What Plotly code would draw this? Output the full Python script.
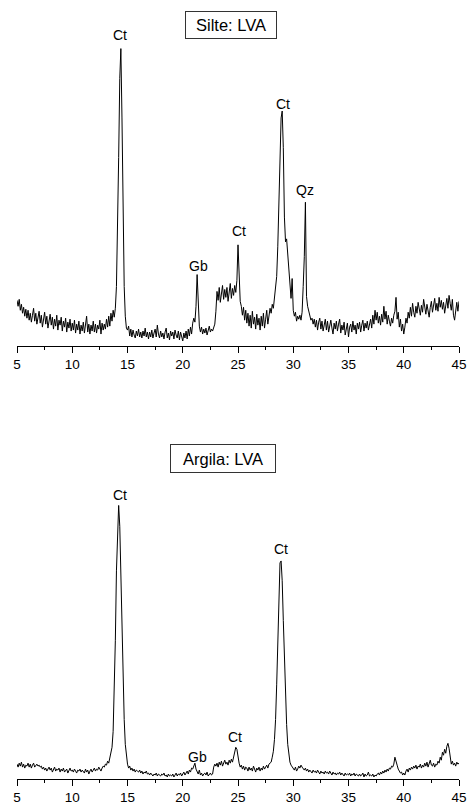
import plotly.graph_objects as go
from plotly.subplots import make_subplots

# 2-theta sampling (degrees), step 0.1 from 5 to 45
two_theta = [round(5 + 0.1 * i, 1) for i in range(401)]

# Silte: LVA intensities (a.u.), 0.1 deg steps
silte = [
    46, 40, 47, 36, 42, 33, 39, 30, 37, 28,
    36, 26, 33, 24, 31, 38, 25, 33, 22, 30,
    35, 23, 31, 19, 29, 34, 22, 30, 18, 28,
    32, 21, 29, 17, 27, 20, 31, 16, 26, 21,
    29, 15, 25, 19, 28, 14, 24, 18, 27, 15,
    23, 16, 26, 13, 22, 16, 25, 12, 21, 15,
    24, 13, 20, 30, 14, 22, 12, 21, 15, 25,
    14, 22, 13, 21, 17, 26, 12, 23, 16, 22,
    17, 27, 19, 30, 20, 33, 25, 36, 29, 38,
    60, 110, 190, 270, 300, 230, 130, 60, 30, 18,
    16, 20, 10, 17, 9, 16, 11, 8, 15, 10,
    17, 9, 14, 8, 15, 10, 18, 9, 14, 7,
    14, 9, 16, 8, 13, 17, 9, 21, 12, 8,
    15, 9, 13, 7, 14, 18, 8, 13, 6, 15,
    10, 14, 7, 16, 11, 8, 15, 6, 14, 9,
    5, 13, 8, 15, 7, 17, 10, 19, 12, 23,
    28, 24, 40, 72, 45, 20, 14, 19, 12, 17,
    13, 18, 11, 16, 20, 14, 17, 15, 19, 22,
    35, 55, 46, 59, 44, 53, 61, 47, 57, 49,
    59, 45, 56, 63, 48, 58, 51, 61, 54, 66,
    102, 75, 45, 40, 31, 39, 26, 36, 23, 33,
    20, 31, 18, 35, 22, 29, 17, 32, 21, 28,
    16, 30, 20, 33, 18, 27, 36, 22, 31, 38,
    33, 42, 38, 48, 55, 70, 100, 140, 190, 230,
    237, 200, 130, 105, 108, 92, 78, 55, 48, 68,
    36, 30, 34, 25, 30, 27, 31, 26, 34, 60,
    90, 145, 50, 40, 34, 30, 26, 28, 22, 27,
    19, 26, 16, 24, 28, 17, 25, 15, 23, 27,
    16, 25, 14, 22, 26, 18, 12, 23, 17, 25,
    15, 22, 27, 13, 21, 16, 24, 11, 20, 23,
    9, 19, 22, 14, 25, 16, 21, 12, 23, 17,
    24, 14, 21, 26, 15, 23, 18, 25, 16, 22,
    27, 18, 31, 22, 36, 26, 34, 23, 30, 21,
    32, 24, 40, 27, 35, 22, 31, 25, 20, 28,
    23, 31, 35, 49, 27, 34, 19, 27, 15, 22,
    12, 19, 28, 23, 34, 28, 39, 30, 43, 34,
    29, 40, 33, 44, 35, 31, 41, 34, 47, 37,
    32, 42, 35, 29, 39, 45, 34, 41, 48, 36,
    43, 35, 49, 39, 46, 37, 44, 33, 42, 48,
    38, 51, 43, 36, 47, 31, 26, 39, 44, 35,
    45,
]

# Argila: LVA intensities (a.u.)
argila = [
    15, 12, 16, 13, 17, 12, 15, 11, 14, 13,
    16, 12, 15, 11, 14, 16, 12, 14, 15, 13,
    14, 12, 13, 10, 12, 9, 11, 8, 10, 12,
    9, 11, 7, 10, 12, 8, 10, 9, 11, 7,
    10, 8, 11, 7, 9, 10, 6, 9, 11, 8,
    9, 7, 10, 8, 6, 9, 8, 10, 7, 9,
    8, 6, 10, 7, 9, 5, 8, 10, 7, 9,
    11, 8, 10, 9, 12, 10, 8, 11, 13, 12,
    15, 14, 18, 16, 21, 26, 32, 48, 85, 140,
    210, 258, 276, 255, 200, 150, 100, 60, 35, 22,
    15, 11, 13, 9, 11, 8, 10, 7, 9, 8,
    7, 9, 6, 8, 5, 7, 6, 8, 5, 6,
    4, 6, 5, 3, 5, 4, 6, 3, 5, 4,
    3, 5, 4, 6, 3, 4, 2, 5, 3, 4,
    3, 5, 2, 4, 6, 3, 5, 4, 6, 3,
    5, 7, 4, 6, 8, 5, 9, 7, 11, 10,
    13, 16, 10, 7, 5, 9, 4, 6, 3, 5,
    6, 4, 7, 3, 5, 6, 4, 5, 12, 15,
    13, 16, 12, 17, 14, 18, 13, 16, 19, 15,
    17, 14, 19, 16, 20, 17, 22, 25, 32, 30,
    22, 16, 12, 14, 10, 13, 9, 12, 11, 8,
    12, 9, 11, 8, 13, 10, 7, 11, 9, 12,
    8, 11, 9, 13, 10, 12, 14, 11, 15, 16,
    17, 22, 28, 40, 60, 95, 140, 185, 218, 220,
    200, 160, 120, 85, 55, 35, 24, 17, 14, 12,
    11, 9, 12, 8, 10, 13, 11, 14, 12, 10,
    9, 11, 8, 10, 7, 9, 8, 6, 9, 7,
    8, 6, 9, 7, 5, 8, 6, 7, 5, 8,
    6, 7, 5, 8, 6, 4, 7, 5, 6, 4,
    6, 5, 7, 4, 6, 5, 3, 6, 4, 5,
    4, 6, 3, 5, 4, 6, 3, 5, 4, 3,
    5, 3, 4, 6, 2, 5, 3, 4, 7, 3,
    4, 3, 5, 2, 4, 3, 5, 6, 4, 7,
    5, 8, 6, 9, 7, 10, 8, 11, 10, 13,
    12, 15, 22, 19, 14, 10, 8, 6, 7, 4,
    6, 4, 8, 10, 7, 11, 9, 12, 10, 13,
    11, 14, 10, 13, 12, 15, 11, 14, 12, 16,
    13, 17, 12, 15, 19, 14, 13, 16, 12, 15,
    14, 18, 16, 22, 19, 27, 24, 30, 26, 33,
    36, 31, 22, 15, 18, 14, 16, 13, 17, 15,
    16,
]

# Peak labels: (label, 2-theta, label height)
silte_labels = ["Ct", "Gb", "Ct", "Ct", "Qz"]
silte_label_x = [14.36, 21.45, 25.1, 29.03, 31.1]
silte_label_y = [314, 81, 116, 244, 157]

argila_labels = ["Ct", "Gb", "Ct", "Ct"]
argila_label_x = [14.33, 21.3, 24.75, 28.85]
argila_label_y = [287, 22, 42, 232]

panel_titles = ["Silte: LVA", "Argila: LVA"]
tick_vals = [5, 10, 15, 20, 25, 30, 35, 40, 45]

FONT = "Arial, Liberation Sans, sans-serif"

fig = make_subplots(rows=2, cols=1, vertical_spacing=0.0)

fig.add_trace(go.Scatter(x=two_theta, y=silte, mode="lines",
                         line=dict(color="black", width=1), showlegend=False),
              row=1, col=1)
fig.add_trace(go.Scatter(x=two_theta, y=argila, mode="lines",
                         line=dict(color="black", width=1), showlegend=False),
              row=2, col=1)

xaxis_style = dict(
    range=[5, 45], showline=True, linecolor="black", linewidth=1,
    ticks="outside", ticklen=6, tickwidth=1, tickcolor="black",
    tickmode="array", tickvals=tick_vals, ticklabeloverflow="allow",
    minor=dict(ticks="outside", ticklen=3, tickwidth=1, tickcolor="black",
               dtick=2.5, tick0=5, showgrid=False),
    showgrid=False, zeroline=False,
    tickfont=dict(family=FONT, size=13.5, color="black"),
)
fig.update_layout(
    xaxis=dict(domain=[0, 1], anchor="y", **xaxis_style),
    xaxis2=dict(domain=[0, 1], anchor="y2", **xaxis_style),
    yaxis=dict(domain=[0.5588, 1.0], range=[0, 345], visible=False),
    yaxis2=dict(domain=[0.0, 0.4425], range=[0, 346], visible=False),
)

for lab, lx, ly in zip(silte_labels, silte_label_x, silte_label_y):
    fig.add_annotation(x=lx, y=ly, xref="x", yref="y", text=lab, showarrow=False,
                       font=dict(family=FONT, size=14, color="black"))
for lab, lx, ly in zip(argila_labels, argila_label_x, argila_label_y):
    fig.add_annotation(x=lx, y=ly, xref="x2", yref="y2", text=lab, showarrow=False,
                       font=dict(family=FONT, size=14, color="black"))

fig.add_annotation(x=24.4, y=324, xref="x", yref="y", text=panel_titles[0],
                   showarrow=False, font=dict(family=FONT, size=16.5, color="black"),
                   bordercolor="#333333", borderwidth=1, borderpad=3,
                   width=84, height=20, bgcolor="white")
fig.add_annotation(x=23.6, y=323.5, xref="x2", yref="y2", text=panel_titles[1],
                   showarrow=False, font=dict(family=FONT, size=16.5, color="black"),
                   bordercolor="#333333", borderwidth=1, borderpad=3,
                   width=98, height=21, bgcolor="white")

fig.update_layout(
    width=471, height=809,
    margin=dict(l=17, r=4, t=4, b=23),
    paper_bgcolor="white", plot_bgcolor="white",
    showlegend=False,
)

fig.write_html("out.html",
               config={"displayModeBar": False},
               post_script="document.body.style.margin='0px';document.body.style.overflow='hidden';")
